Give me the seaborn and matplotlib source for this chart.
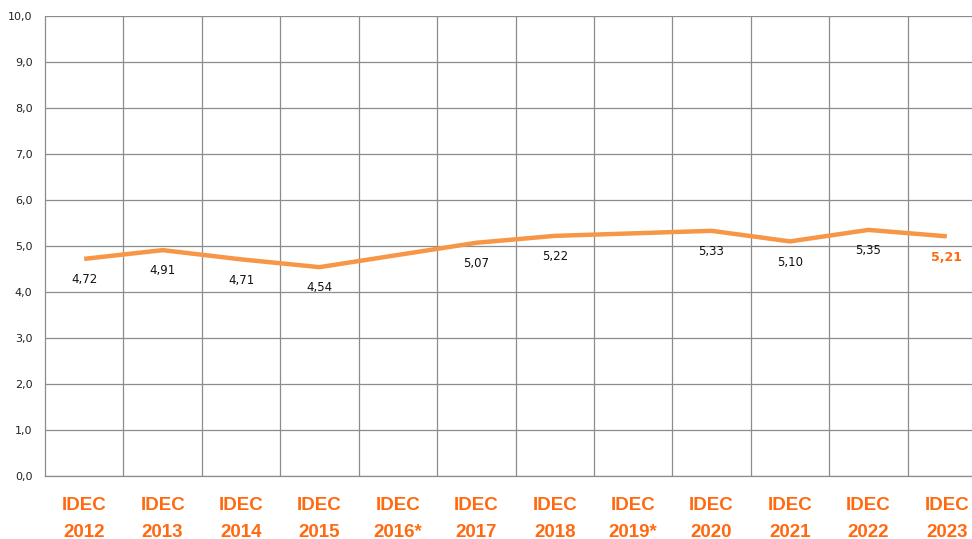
import numpy as np
import pandas as pd
import matplotlib
matplotlib.use("Agg")
import matplotlib.pyplot as plt
import seaborn as sns

categories = ["IDEC\n2012", "IDEC\n2013", "IDEC\n2014", "IDEC\n2015", "IDEC\n2016*", "IDEC\n2017",
              "IDEC\n2018", "IDEC\n2019*", "IDEC\n2020", "IDEC\n2021", "IDEC\n2022", "IDEC\n2023"]
values = [4.72, 4.91, 4.71, 4.54, np.nan, 5.07, 5.22, np.nan, 5.33, 5.10, 5.35, 5.21]
yticks = [0, 1, 2, 3, 4, 5, 6, 7, 8, 9, 10]

sns.set_style("white")
plt.rcParams['font.family'] = ['DejaVu Sans']

df = pd.DataFrame({"pos": range(len(categories)), "val": values}).dropna()

fig = plt.figure(figsize=(9.72, 5.39), dpi=100)
ax = fig.add_axes([45 / 972, 1 - 476 / 539, 941 / 972, 460 / 539])

line_col = "#F79646"
label_col = "#FF6A10"

sns.lineplot(data=df, x="pos", y="val", ax=ax, color=line_col, linewidth=3.2,
             solid_capstyle="butt", zorder=3)

ax.set_xlim(-0.5, len(categories) - 0.5)
ax.set_ylim(0, 10)
ax.set_yticks(yticks)
ax.set_yticklabels([f"{v:.1f}".replace(".", ",") for v in yticks], fontsize=8, color="#222222")
ax.set_xticks(range(len(categories)))
ax.set_xticklabels(categories, fontsize=13.5, fontweight="bold", color=label_col,
                   family="Liberation Sans", linespacing=1.75)
ax.tick_params(axis="x", length=0, pad=15)
ax.tick_params(axis="y", length=0, pad=9)
ax.set_xlabel("")
ax.set_ylabel("")

# grid: horizontal at ticks, vertical between categories
for y in yticks:
    ax.axhline(y, color="#8C8C8C", linewidth=0.9, zorder=1)
for b in np.arange(0.5, len(categories) - 0.5, 1):
    ax.axvline(b, color="#8C8C8C", linewidth=0.9, zorder=1)

for s in ["top", "right"]:
    ax.spines[s].set_visible(False)
for s in ["left", "bottom"]:
    ax.spines[s].set_color("#8C8C8C")
    ax.spines[s].set_linewidth(0.9)

last = df["pos"].max()
for p, v in zip(df["pos"], df["val"]):
    txt = f"{v:.2f}".replace(".", ",")
    if p == last:
        ax.annotate(txt, (p, v), xytext=(0, -15), textcoords="offset points",
                    ha="center", va="center", fontsize=9, fontweight="bold", color=label_col)
    else:
        ax.annotate(txt, (p, v), xytext=(0, -15), textcoords="offset points",
                    ha="center", va="center", fontsize=8.5, color="#111111")

fig.savefig("out.png", dpi=100)
